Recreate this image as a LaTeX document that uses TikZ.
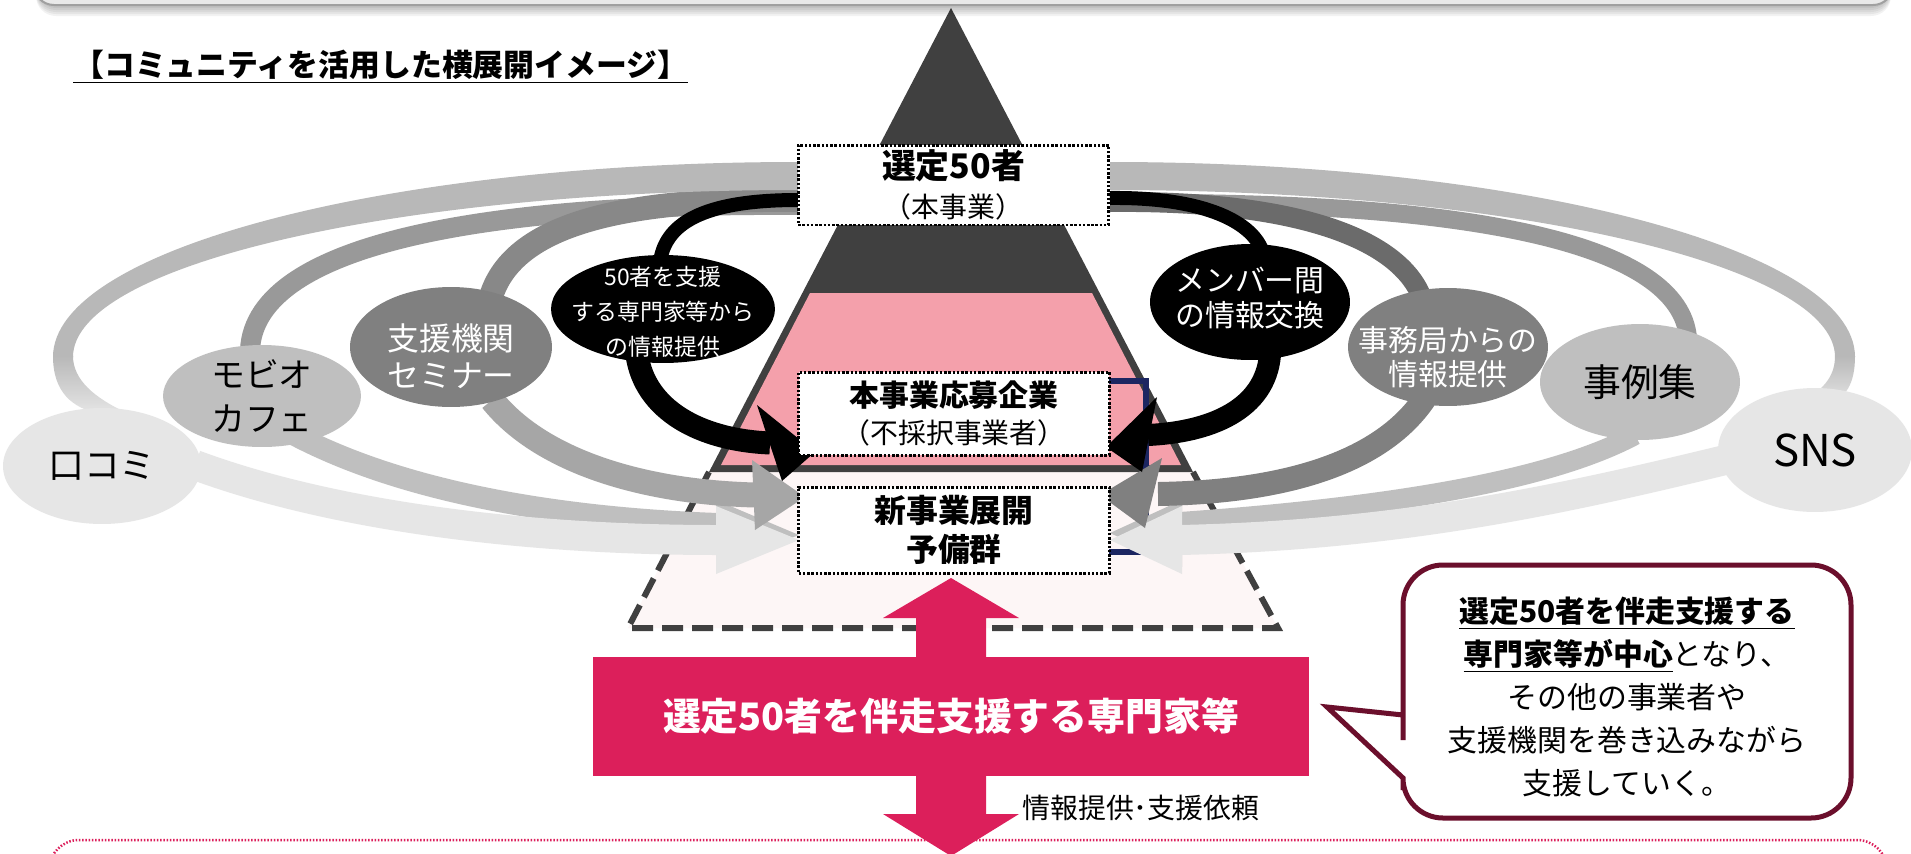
\documentclass[tikz,border=0pt]{standalone}
\usepackage{fontspec}
\setmainfont{Noto Sans CJK JP}
\usetikzlibrary{shapes.geometric}
\newcommand\pxf[2]{\fontsize{\dimexpr 0.5669pt*#1\relax}{\dimexpr 0.5669pt*#2\relax}\selectfont}
\definecolor{dk}{HTML}{404040}
\definecolor{pinkb}{HTML}{F4A0AB}
\definecolor{lpink}{HTML}{FDF6F6}
\definecolor{mag}{HTML}{DC1F5B}
\definecolor{maroon}{HTML}{6B0F2C}
\definecolor{navy}{HTML}{1C2661}
\definecolor{g1}{HTML}{E6E6E6}
\definecolor{g2}{HTML}{BFBFBF}
\definecolor{g3}{HTML}{B8B8B8}
\definecolor{g4}{HTML}{999999}
\definecolor{g5}{HTML}{808080}
\definecolor{g6}{HTML}{A6A6A6}
\definecolor{g7}{HTML}{6B6B6B}
\definecolor{g8}{HTML}{888888}
\definecolor{topfl}{HTML}{E9E9E9}
\definecolor{topln}{HTML}{A0A0A0}
\begin{document}
\begin{tikzpicture}[x=0.02cm, y=-0.02cm,
  bub/.style={ellipse, inner sep=0pt, draw=none},
  btxt/.style={align=center, inner sep=0pt},
  dbox/.style={draw=black, fill=white, line width=0.06cm, dash pattern=on 0.05cm off 0.035cm, minimum width=6.22cm, inner sep=0pt, align=center},
  band/.style={line cap=butt}]
\useasboundingbox (0,0) rectangle (1911,853);
\clip (0,0) rectangle (1911,853);
\fill[white] (0,0) rectangle (1911,853);

% bottom dotted frame
\draw[mag, line width=0.05cm, dash pattern=on 0.03cm off 0.035cm, rounded corners=0.6cm] (49,840) rectangle (1887,940);

% pyramid
\fill[lpink] (709,472) -- (628,628) -- (1278,628) -- (1193,472) -- cycle;
\draw[dk, line width=0.12cm, dash pattern=on 0.42cm off 0.18cm] (709,472) -- (628,628) -- (1278,628) -- (1193,472);
\fill[dk] (951,8) -- (1193,472) -- (709,472) -- cycle;
\fill[pinkb] (810,293) -- (1092,293) -- (1181,465) -- (721,465) -- cycle;

% navy bracket
\draw[navy, line width=0.12cm] (1108,381) -- (1146,381) -- (1146,552) -- (1108,552);

% coordinates of band ends
\coordinate (L3s) at (798,205); \coordinate (L3e) at (250,350);
\coordinate (R3s) at (1110,203); \coordinate (R3e) at (1688,338);
\coordinate (L2s) at (798,200); \coordinate (L2e) at (490,300);
\coordinate (R2s) at (1110,202); \coordinate (R2e) at (1422,298);
\coordinate (L1s) at (798,200); \coordinate (L1e) at (660,262);
\coordinate (R1s) at (1110,198); \coordinate (R1e) at (1262,250);

% top bands
\draw[band, g4, line width=0.40cm] (L3s) .. controls (500,203) and (255,240) .. (L3e);
\draw[band, g4, line width=0.36cm] (R3s) .. controls (1480,200) and (1680,245) .. (R3e);
\draw[band, g8, line width=0.48cm] (L2s) .. controls (620,198) and (510,225) .. (L2e);
\draw[band, g7, line width=0.40cm] (R2s) .. controls (1300,200) and (1400,240) .. (R2e);
\draw[band, black, line width=0.28cm] (L1s) .. controls (700,200) and (665,225) .. (L1e);
\draw[band, black, line width=0.28cm] (R1s) .. controls (1200,197) and (1250,220) .. (R1e);
% outer loops (tapered)
\fill[g3] (798,162) .. controls (386.5,162) and (53,249.3) .. (53,357) -- (73,357) .. controls (73,264.8) and (397.6,190) .. (798,190) -- cycle;
\shade[top color=g3, bottom color=g1] (53,356) .. controls (53,392) and (72,408) .. (100,414) -- (125,412) .. controls (95,398) and (73,380) .. (73,356) -- cycle;
\fill[g3] (1110,162) .. controls (1521.5,162) and (1855,249.3) .. (1855,357) -- (1835,357) .. controls (1835,264.8) and (1510.4,190) .. (1110,190) -- cycle;
\shade[top color=g3, bottom color=g1] (1855,356) .. controls (1855,385) and (1845,398) .. (1828,405) -- (1805,400) .. controls (1825,388) and (1835,375) .. (1835,356) -- cycle;

% bottom bands and arrowheads
\draw[band, g2, line width=0.44cm] (295,435) .. controls (400,490) and (550,518) .. (718,524);
\fill[g2] (716,500) -- (799,535) -- (716,567) -- cycle;
\draw[band, g2, line width=0.40cm] (1635,435) .. controls (1560,475) and (1420,505) .. (1180,522);
\fill[g2] (1182,500) -- (1110,533) -- (1182,567) -- cycle;
\draw[band, g1, line width=0.60cm] (195,465) .. controls (330,515) and (520,540) .. (718,540);
\fill[g1] (716,506) -- (799,540) -- (716,574) -- cycle;
\draw[band, g1, line width=0.60cm] (1725,460) .. controls (1560,500) and (1400,535) .. (1180,540);
\fill[g1] (1182,506) -- (1110,540) -- (1182,574) -- cycle;
\draw[band, g6, line width=0.50cm] (492,400) .. controls (540,460) and (640,492) .. (755,495);
\fill[g6] (752,460) -- (805,497) -- (755,530) -- cycle;
\draw[band, g5, line width=0.48cm] (1425,398) .. controls (1380,465) and (1280,492) .. (1158,494);
\fill[g5] (1162,458) -- (1100,495) -- (1145,528) -- cycle;
\draw[band, black, line width=0.46cm] (637,355) .. controls (645,410) and (700,440) .. (770,443);
\fill[black] (757,405) -- (815,452) -- (782,481) -- cycle;
\draw[band, black, line width=0.44cm] (1270,355) .. controls (1265,410) and (1210,432) .. (1148,435);
\fill[black] (1157,397) -- (1106,447) -- (1142,472) -- cycle;

% bubbles
\node[bub, fill=g1, minimum width=3.96cm, minimum height=2.32cm] (kuchi) at (102,466) {};
\node[btxt, font=\pxf{36}{40}] (kuchiT) at (kuchi.center) {口コミ};
\node[bub, fill=g2, minimum width=3.96cm, minimum height=2.04cm] (mobio) at (262,396) {};
\node[btxt, font=\pxf{34}{45}] (mobioT) at (mobio.center) {モビオ\\カフェ};
\node[bub, fill=g5, minimum width=4.04cm, minimum height=2.4cm] (semi) at (451,347) {};
\node[btxt, text=white, font=\pxf{32}{37}] (semiT) at (451,356) {支援機関\\セミナー};
\node[bub, fill=black, minimum width=4.48cm, minimum height=2.16cm] (senmon) at (663,309) {};
\node[btxt, text=white, font=\pxf{23}{35}] (senmonT) at (663,312) {50者を支援\\する専門家等から\\の情報提供};
\node[bub, fill=black, minimum width=4.0cm, minimum height=2.32cm] (member) at (1250,302) {};
\node[btxt, text=white, font=\pxf{30}{36}] (memberT) at (1250,298) {メンバー間\\の情報交換};
\node[bub, fill=g5, minimum width=4.0cm, minimum height=2.36cm] (jimu) at (1448,347) {};
\node[btxt, text=white, font=\pxf{30}{34}] (jimuT) at (1448,357) {事務局からの\\情報提供};
\node[bub, fill=g2, minimum width=4.0cm, minimum height=2.32cm] (jirei) at (1640,382) {};
\node[btxt, font=\pxf{38}{40}] (jireiT) at (jirei.center) {事例集};
\node[bub, fill=g1, minimum width=3.88cm, minimum height=2.48cm] (sns) at (1815,450) {};
\node[btxt, font=\pxf{44}{48}] (snsT) at (sns.center) {SNS};

% boxes
\node[dbox, minimum height=1.6cm, font=\pxf{28}{39}] (top) at (953.5,185) {{\pxf{34}{39}\bfseries 選定50者}\\（本事業）};
\node[dbox, minimum height=1.66cm, font=\pxf{28}{37}] (appl) at (954,413.5) {{\pxf{30}{37}\bfseries 本事業応募企業}\\（不採択事業者）};
\node[dbox, minimum height=1.72cm, font={\pxf{32}{39}\bfseries}] (cand) at (954,530) {新事業展開\\予備群};

% top banner with shadow
\foreach \i in {1,...,6} \fill[black, opacity=0.05, rounded corners=0.4cm] (36,-40) rectangle (1891, 4+2*\i);
\draw[draw=topln, fill=topfl, line width=0.04cm, rounded corners=0.4cm] (34,-40) rectangle (1893,5);

% title
\node[anchor=west, inner sep=0pt, font=\pxf{31}{36}] (title) at (73,67) {\underline{\textbf{【コミュニティを活用した横展開イメージ】}}};

% double arrow and expert box
\fill[mag] (951,578) -- (1019,618) -- (986,618) -- (986,814) -- (1019,814) -- (951,856) -- (883,814) -- (916,814) -- (916,618) -- (883,618) -- cycle;
\node[fill=mag, minimum width=14.32cm, minimum height=2.38cm, inner sep=0pt, text=white, font={\pxf{38}{46}\bfseries}] (expert) at (951,716.5) {選定50者を伴走支援する専門家等};
\node[anchor=west, inner sep=0pt, font=\pxf{28}{32}] (req) at (1022,808) {情報提供･支援依頼};

% callout
\draw[maroon, line width=0.1cm, fill=white] (1327,707) -- (1403,778) -- (1403,790) [rounded corners=0.8cm] -- (1403,818) -- (1851,818) -- (1851,565) -- (1403,565) -- (1403,700) [sharp corners] -- (1403,715) -- cycle;
\node[align=center, inner sep=0pt, font=\pxf{30}{43}] (note) at (1627,697) {\underline{\textbf{選定50者を伴走支援する}}\\\underline{\textbf{専門家等が中心}}となり、\\その他の事業者や\\支援機関を巻き込みながら\\支援していく。};
\end{tikzpicture}
\end{document}
